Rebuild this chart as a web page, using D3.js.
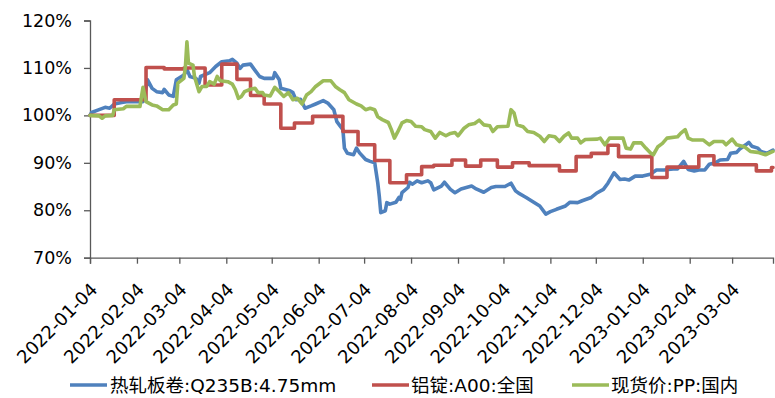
<!DOCTYPE html>
<html><head><meta charset="utf-8">
<script src="https://cdn.jsdelivr.net/npm/d3@7"></script>
<style>
html,body{margin:0;padding:0;background:#fff;}
svg{display:block;}
text{font-family:"DejaVu Sans","Noto Sans CJK SC",sans-serif;fill:#000;}
</style></head><body>
<svg id="chart" width="775" height="398"></svg>
<script>
// ---------- data ----------
const seriesNames = ["热轧板卷:Q235B:4.75mm", "铝锭:A00:全国", "现货价:PP:国内"];
const seriesColors = ["#4F81BD", "#C0504D", "#9BBB59"];

const blueDates = ["2022-01-04","2022-01-05","2022-01-10","2022-01-14","2022-01-17","2022-01-20","2022-01-25","2022-01-28","2022-02-08","2022-02-10","2022-02-11","2022-02-14","2022-02-17","2022-02-21","2022-02-22","2022-02-25","2022-02-28","2022-03-02","2022-03-07","2022-03-09","2022-03-11","2022-03-15","2022-03-17","2022-03-18","2022-03-24","2022-03-28","2022-04-01","2022-04-06","2022-04-08","2022-04-11","2022-04-13","2022-04-15","2022-04-20","2022-04-22","2022-04-26","2022-04-29","2022-05-05","2022-05-06","2022-05-09","2022-05-10","2022-05-16","2022-05-18","2022-05-20","2022-05-23","2022-05-26","2022-05-30","2022-06-02","2022-06-07","2022-06-10","2022-06-14","2022-06-16","2022-06-20","2022-06-21","2022-06-23","2022-06-27","2022-06-29","2022-07-01","2022-07-05","2022-07-08","2022-07-11","2022-07-13","2022-07-14","2022-07-15","2022-07-18","2022-07-19","2022-07-21","2022-07-25","2022-07-27","2022-07-28","2022-07-29","2022-08-02","2022-08-03","2022-08-05","2022-08-08","2022-08-11","2022-08-15","2022-08-17","2022-08-19","2022-08-24","2022-08-26","2022-08-30","2022-09-02","2022-09-06","2022-09-13","2022-09-16","2022-09-21","2022-09-26","2022-09-29","2022-10-05","2022-10-09","2022-10-12","2022-10-14","2022-10-19","2022-10-24","2022-10-28","2022-11-01","2022-11-04","2022-11-08","2022-11-14","2022-11-17","2022-11-22","2022-11-25","2022-12-01","2022-12-05","2022-12-09","2022-12-12","2022-12-16","2022-12-20","2022-12-23","2022-12-26","2022-12-30","2023-01-04","2023-01-09","2023-01-13","2023-01-18","2023-01-24","2023-01-27","2023-01-31","2023-02-03","2023-02-07","2023-02-10","2023-02-14","2023-02-17","2023-02-21","2023-02-24","2023-03-01","2023-03-03","2023-03-07","2023-03-09","2023-03-13","2023-03-15","2023-03-17","2023-03-21","2023-03-23","2023-03-27","2023-03-31"];
const blueValues = [100.0,100.6,101.2,101.7,101.5,102.4,102.7,102.9,102.9,105.7,107.5,105.7,105.0,104.8,105.5,104.3,104.0,107.5,108.5,109.7,108.2,107.8,106.8,108.2,109.0,110.3,111.3,111.5,111.8,111.0,109.9,110.6,110.8,109.9,108.2,107.8,107.8,109.0,107.5,105.7,105.2,104.8,103.3,103.4,101.5,102.0,102.4,103.1,102.6,101.2,98.7,97.0,93.1,92.0,91.7,93.1,92.1,90.7,90.3,90.0,85.8,83.0,79.5,79.9,81.6,81.3,81.7,82.7,82.3,83.7,84.8,85.9,85.5,86.2,85.8,86.2,85.8,84.3,85.1,85.9,84.4,83.7,84.5,85.1,84.5,83.8,84.8,85.0,85.0,85.7,84.1,83.6,82.7,81.7,80.9,79.2,79.7,80.2,80.9,81.7,81.6,82.0,82.7,83.7,84.4,85.7,87.9,86.5,86.6,86.4,87.2,87.2,87.6,88.5,88.5,88.7,88.7,90.3,88.6,88.3,88.5,88.5,89.7,90.0,90.6,90.7,92.0,92.2,92.9,93.8,94.3,93.5,93.1,92.4,92.0,92.7];

const redDates = ["2022-01-04","2022-01-20","2022-02-10","2022-02-22","2022-03-07","2022-03-21","2022-04-01","2022-04-11","2022-04-20","2022-04-29","2022-05-10","2022-05-19","2022-05-31","2022-06-20","2022-06-30","2022-07-11","2022-07-21","2022-08-01","2022-08-11","2022-08-19","2022-08-31","2022-09-09","2022-09-19","2022-09-30","2022-10-10","2022-10-21","2022-11-10","2022-11-21","2022-12-01","2022-12-12","2022-12-19","2023-01-10","2023-01-20","2023-02-10","2023-02-20","2023-03-20","2023-03-30","2023-03-31"];
const redValues = [100.0,103.3,110.1,109.8,110.0,106.4,110.8,107.6,104.2,102.4,97.3,98.4,99.8,96.6,93.8,90.5,85.8,87.5,89.2,89.5,90.6,89.3,90.6,89.1,90.0,89.4,88.3,91.3,92.0,93.7,91.3,86.9,89.1,91.5,89.6,88.3,89.0,89.0];

const greenDates = ["2022-01-04","2022-01-10","2022-01-12","2022-01-14","2022-01-19","2022-01-20","2022-01-26","2022-01-28","2022-02-06","2022-02-07","2022-02-08","2022-02-10","2022-02-14","2022-02-17","2022-02-21","2022-02-25","2022-02-28","2022-03-02","2022-03-03","2022-03-07","2022-03-08","2022-03-09","2022-03-10","2022-03-13","2022-03-14","2022-03-17","2022-03-19","2022-03-22","2022-03-24","2022-03-27","2022-03-29","2022-03-31","2022-04-05","2022-04-08","2022-04-10","2022-04-12","2022-04-14","2022-04-16","2022-04-20","2022-04-23","2022-04-25","2022-04-28","2022-04-29","2022-05-03","2022-05-06","2022-05-09","2022-05-12","2022-05-15","2022-05-18","2022-05-21","2022-05-24","2022-05-27","2022-05-30","2022-06-02","2022-06-07","2022-06-12","2022-06-15","2022-06-18","2022-06-21","2022-06-24","2022-06-29","2022-07-02","2022-07-05","2022-07-08","2022-07-11","2022-07-13","2022-07-16","2022-07-20","2022-07-22","2022-07-24","2022-07-26","2022-07-29","2022-08-01","2022-08-04","2022-08-07","2022-08-11","2022-08-13","2022-08-17","2022-08-20","2022-08-23","2022-08-27","2022-08-30","2022-09-02","2022-09-04","2022-09-08","2022-09-11","2022-09-15","2022-09-18","2022-09-21","2022-09-25","2022-09-27","2022-09-30","2022-10-07","2022-10-09","2022-10-11","2022-10-13","2022-10-17","2022-10-20","2022-10-24","2022-10-28","2022-10-31","2022-11-03","2022-11-07","2022-11-10","2022-11-13","2022-11-16","2022-11-18","2022-11-22","2022-11-24","2022-11-27","2022-12-05","2022-12-07","2022-12-10","2022-12-13","2022-12-22","2022-12-24","2022-12-27","2022-12-29","2023-01-03","2023-01-06","2023-01-09","2023-01-11","2023-01-14","2023-01-17","2023-01-20","2023-01-27","2023-01-29","2023-02-01","2023-02-03","2023-02-06","2023-02-13","2023-02-17","2023-02-20","2023-02-26","2023-02-28","2023-03-04","2023-03-07","2023-03-12","2023-03-16","2023-03-21","2023-03-26","2023-03-31"];
const greenValues = [100.0,99.9,99.4,99.9,100.0,101.2,101.4,101.9,101.9,104.0,105.9,102.9,102.2,102.0,101.2,101.2,102.2,102.4,106.8,107.8,110.3,115.5,111.0,110.6,108.2,105.0,106.1,106.1,107.1,106.6,108.2,107.3,107.1,106.6,105.4,103.6,104.0,105.0,105.5,105.7,104.8,104.8,104.3,104.1,105.9,105.0,104.0,104.8,103.3,103.6,102.4,104.3,105.0,106.1,107.3,107.3,106.1,105.4,104.8,103.3,102.4,102.0,101.2,101.5,101.2,99.7,99.1,98.5,97.0,95.2,96.4,98.4,98.9,98.7,97.7,97.6,97.0,96.6,95.2,96.4,95.7,96.2,96.4,95.7,97.3,98.0,98.3,99.0,98.0,97.8,96.6,97.6,97.7,101.2,100.5,98.0,97.6,96.6,96.4,95.6,94.5,95.7,95.5,94.5,95.6,96.3,95.2,95.2,94.2,94.9,95.0,95.2,93.8,95.2,95.2,93.1,92.9,94.2,94.2,93.1,92.1,91.7,93.4,94.1,95.2,95.5,96.2,97.0,95.2,94.8,94.8,93.8,94.5,94.5,93.8,95.0,93.8,93.4,92.4,92.2,91.7,92.4];

const xTickLabels = ["2022-01-04","2022-02-04","2022-03-04","2022-04-04","2022-05-04","2022-06-04","2022-07-04","2022-08-04","2022-09-04","2022-10-04","2022-11-04","2022-12-04","2023-01-04","2023-02-04","2023-03-04"];
const yTicks = [70, 80, 90, 100, 110, 120];
const xDomain = ["2022-01-04", "2023-03-31"];

// ---------- chart ----------
const parse = d3.utcParse("%Y-%m-%d");
const svg = d3.select("#chart");
const mLeft = 90, mRight = 773, mTop = 20.5, mBottom = 257.7;

const x = d3.scaleUtc().domain(xDomain.map(parse)).range([mLeft, mRight]);
const y = d3.scaleLinear().domain([70, 120]).range([mBottom, mTop]);

const axisColor = "#595959";

// Y axis
const yAxis = d3.axisLeft(y).tickValues(yTicks).tickSize(6).tickPadding(12)
  .tickFormat(d => d + "%");
const gy = svg.append("g").attr("transform", `translate(${mLeft},0)`).call(yAxis);
gy.select(".domain").attr("stroke", axisColor).attr("stroke-width", 1.3);
gy.selectAll(".tick line").attr("stroke", axisColor).attr("stroke-width", 1.3);
gy.selectAll(".tick text").style("font-size", "17.5px").attr("fill", "#000");

// X axis
const xAxis = d3.axisBottom(x).tickValues(xTickLabels.map(parse)).tickSize(6)
  .tickFormat(d3.utcFormat("%Y-%m-%d"));
const gx = svg.append("g").attr("transform", `translate(0,${mBottom})`).call(xAxis);
gx.select(".domain").attr("stroke", axisColor).attr("stroke-width", 1.3);
gx.selectAll(".tick line").attr("stroke", axisColor).attr("stroke-width", 1.3);
gx.selectAll(".tick text")
  .style("font-size", "18px").attr("fill", "#000")
  .attr("text-anchor", "end")
  .attr("x", 0).attr("y", 0).attr("dy", 0)
  .attr("transform", "translate(8,33) rotate(-45)");

// Lines
const series = [
  {dates: blueDates, values: blueValues, curve: d3.curveLinear},
  {dates: redDates, values: redValues, curve: d3.curveStepAfter},
  {dates: greenDates, values: greenValues, curve: d3.curveLinear}
];
[0, 1, 2].forEach(i => {
  const s = series[i];
  const pts = s.dates.map((d, k) => [parse(d), s.values[k]]);
  const line = d3.line().x(p => x(p[0])).y(p => y(p[1])).curve(s.curve);
  svg.append("path").datum(pts)
    .attr("d", line)
    .attr("fill", "none")
    .attr("stroke", seriesColors[i])
    .attr("stroke-width", 3.6)
    .attr("stroke-linejoin", "round")
    .attr("stroke-linecap", "round");
});

// Legend
const legendItems = [
  {lx: 70, tx: 110},
  {lx: 372, tx: 411},
  {lx: 572, tx: 611}
];
const ly = 385;
legendItems.forEach((it, i) => {
  svg.append("line").attr("x1", it.lx).attr("x2", it.lx + 37)
    .attr("y1", ly).attr("y2", ly)
    .attr("stroke", seriesColors[i]).attr("stroke-width", 3.6);
  svg.append("text").attr("x", it.tx).attr("y", ly).attr("dy", "0.36em")
    .style("font-size", "18.5px").text(seriesNames[i]);
});
</script>
</body></html>
